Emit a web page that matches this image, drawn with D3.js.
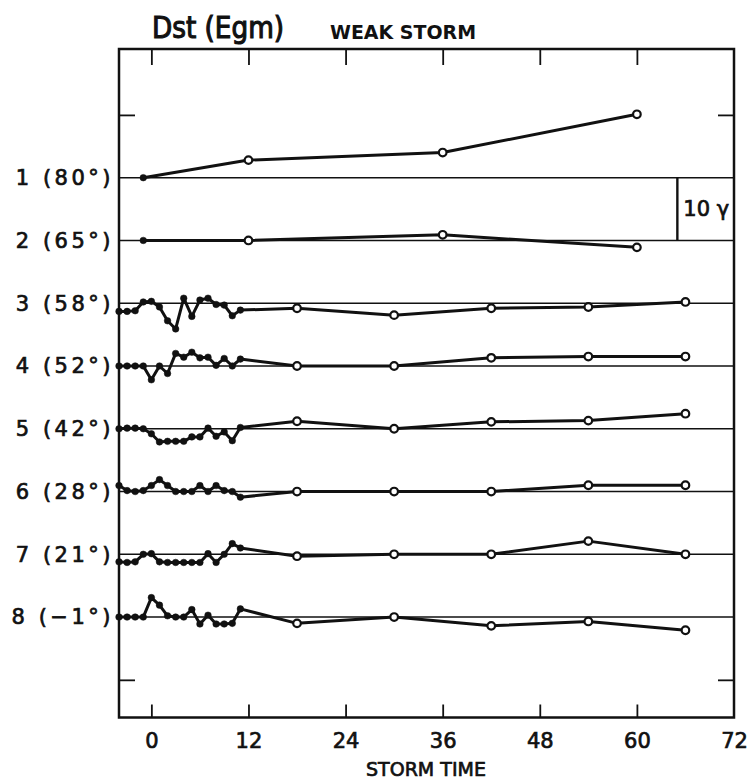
<!DOCTYPE html>
<html lang="en">
<head>
<meta charset="UTF-8">
<title>Dst (Egm) weak storm</title>
<script src="https://cdn.jsdelivr.net/npm/d3@7"></script>
<style>
  body { margin: 0; background: #fff; }
  svg { display: block; font-family: "DejaVu Sans", sans-serif; }
  .lettering { fill: #111; stroke: #111; stroke-width: 0.7px; }
</style>
</head>
<body>
<div id="chart"></div>
<script>
// station labels, top to bottom
const stations = ["1 (80°)", "2 (65°)", "3 (58°)", "4 (52°)", "5 (42°)", "6 (28°)", "7  (21°)", "8  (\u22121°)"];

// hourly storm times (rows 3-8) and the later 12-hourly samples
const hours = [-4, -3, -2, -1, 0, 1, 2, 3, 4, 5, 6, 7, 8, 9, 10, 11];
const lateTimes = [18, 30, 42, 54, 66];
// rows 1-2 only have these
const polarTimes = [-1, 12, 36, 60];

// values in gamma, relative to each row's baseline
const row1 = [0, 2.8, 4.0, 10.1];
const row2 = [0, 0, 0.9, -1.1];

const row3Hourly = [-1.3, -1.3, -1.2, 0.2, 0.3, -0.6, -2.8, -4.1, 0.8, -2.1, 0.5, 0.8, -0.2, -0.3, -2.0, -1.1];
const row4Hourly = [0, 0, 0, 0, -2.2, 0, -1.2, 2.0, 1.4, 2.2, 1.3, 1.4, 0.1, 1.2, 0, 1.1];
const row5Hourly = [0, 0.1, 0.1, 0, -0.8, -2.1, -2.0, -2.0, -2.0, -1.3, -1.3, 0.1, -1.2, -0.5, -1.9, 0.2];
const row6Hourly = [0.95, 0.15, 0, 0.15, 0.95, 1.9, 0.95, 0, 0, 0, 0.95, 0, 0.95, 0.15, 0, -0.9];
const row7Hourly = [-1.2, -1.3, -1.2, 0, 0.1, -1.2, -1.3, -1.3, -1.3, -1.3, -1.3, 0.1, -1.3, 0, 1.7, 1.0];
const row8Hourly = [0, 0, 0, 0, 3.1, 1.9, 0.2, 0, 0, 1.2, -1.1, 0.3, -1.1, -1.1, -1.0, 1.3];

const row3Late = [-0.8, -1.9, -0.8, -0.6, 0.2];
const row4Late = [0, 0, 1.3, 1.5, 1.5];
const row5Late = [1.2, 0, 1.1, 1.3, 2.4];
const row6Late = [0, 0, 0, 1.0, 1.0];
const row7Late = [-0.3, 0, 0, 2.1, 0];
const row8Late = [-1.0, 0, -1.4, -0.7, -2.1];

const xTicks = [0, 12, 24, 36, 48, 60, 72];
const rowSpacing = 10; // gamma between baselines (scale bar = 10 gamma)

const width = 749, height = 784;

const svg = d3.select("#chart").append("svg")
  .attr("width", width)
  .attr("height", height);

const x = d3.scaleLinear().domain([-4, 72]).range([119, 734]);
// vertical scale in gamma: row k sits at k*10
const y = d3.scaleLinear().domain([-10.5, 96]).range([49, 717.5]);

// build the point lists for every row
const series = [
  polarTimes.map((t, i) => ({t, v: row1[i], open: i > 0})),
  polarTimes.map((t, i) => ({t, v: row2[i], open: i > 0}))
];
[[row3Hourly, row3Late], [row4Hourly, row4Late], [row5Hourly, row5Late],
 [row6Hourly, row6Late], [row7Hourly, row7Late], [row8Hourly, row8Late]].forEach(([h, l]) => {
  series.push(
    hours.map((t, i) => ({t, v: h[i], open: false}))
      .concat(lateTimes.map((t, i) => ({t, v: l[i], open: true})))
  );
});

const [x0, x1] = x.range();
const [yTop, yBottom] = y.range();

// baselines
svg.append("g")
  .selectAll("line")
  .data(stations)
  .join("line")
  .attr("x1", x0).attr("x2", x1)
  .attr("y1", (d, i) => y((i + 1) * rowSpacing))
  .attr("y2", (d, i) => y((i + 1) * rowSpacing))
  .attr("stroke", "#111")
  .attr("stroke-width", 1.6);

// frame
svg.append("rect")
  .attr("x", x0).attr("y", yTop)
  .attr("width", x1 - x0).attr("height", yBottom - yTop)
  .attr("fill", "none")
  .attr("stroke", "#111")
  .attr("stroke-width", 2.5);

// axes: inward ticks on all sides
const bottomAxis = svg.append("g")
  .attr("transform", `translate(0,${yBottom})`)
  .call(d3.axisBottom(x).tickValues(xTicks).tickSize(-13).tickPadding(16));
bottomAxis.select(".domain").remove();
bottomAxis.selectAll("line").attr("stroke", "#111").attr("stroke-width", 1.8);
bottomAxis.selectAll("text")
  .attr("class", "lettering")
  .style("font-size", "21px")
  .style("font-family", "'DejaVu Sans', sans-serif");
bottomAxis.selectAll(".tick").filter(d => d === 72).select("line").remove();

const topAxis = svg.append("g")
  .attr("transform", `translate(0,${yTop})`)
  .call(d3.axisTop(x).tickValues(xTicks.slice(0, -1)).tickSize(-16).tickFormat(""));
topAxis.select(".domain").remove();
topAxis.selectAll("line").attr("stroke", "#111").attr("stroke-width", 1.8);

const leftAxis = svg.append("g")
  .attr("transform", `translate(${x0},0)`)
  .call(d3.axisLeft(y).tickValues([0, 90]).tickSize(-16).tickFormat(""));
leftAxis.select(".domain").remove();
leftAxis.selectAll("line").attr("stroke", "#111").attr("stroke-width", 1.8);

const rightAxis = svg.append("g")
  .attr("transform", `translate(${x1},0)`)
  .call(d3.axisRight(y).tickValues([0, 90]).tickSize(-16).tickFormat(""));
rightAxis.select(".domain").remove();
rightAxis.selectAll("line").attr("stroke", "#111").attr("stroke-width", 1.8);

// station labels
svg.append("g")
  .selectAll("text")
  .data(stations)
  .join("text")
  .attr("class", "lettering")
  .attr("x", 114)
  .attr("y", (d, i) => y((i + 1) * rowSpacing))
  .attr("dy", "0.35em")
  .attr("text-anchor", "end")
  .style("font-size", "21px")
  .style("letter-spacing", "3.5px")
  .text(d => d);

// data lines
const line = d3.line()
  .x(d => x(d.t))
  .y(d => d.yy);

series.forEach((pts, i) => {
  const base = (i + 1) * rowSpacing;
  pts.forEach(p => p.yy = y(base - p.v));
  const g = svg.append("g");
  g.append("path")
    .datum(pts)
    .attr("d", line)
    .attr("fill", "none")
    .attr("stroke", "#111")
    .attr("stroke-width", 3)
    .attr("stroke-linejoin", "round");
  g.selectAll("circle")
    .data(pts)
    .join("circle")
    .attr("cx", d => x(d.t))
    .attr("cy", d => d.yy)
    .attr("r", d => d.open ? 3.8 : 3.3)
    .attr("fill", d => d.open ? "#fff" : "#111")
    .attr("stroke", "#111")
    .attr("stroke-width", d => d.open ? 2.2 : 0.5);
});

// 10 gamma scale bar between rows 1 and 2
svg.append("line")
  .attr("x1", x(65)).attr("x2", x(65))
  .attr("y1", y(rowSpacing)).attr("y2", y(2 * rowSpacing))
  .attr("stroke", "#111")
  .attr("stroke-width", 2.4);
svg.append("text")
  .attr("class", "lettering")
  .attr("x", x(65) + 6)
  .attr("y", y(1.5 * rowSpacing))
  .attr("dy", "0.35em")
  .style("font-size", "21px")
  .text("10 γ");

// titles
svg.append("text")
  .attr("class", "lettering")
  .attr("x", 152).attr("y", 38)
  .style("font-family", "'DejaVu Sans Condensed', 'DejaVu Sans', sans-serif")
  .style("font-size", "31px")
  .style("stroke-width", "1.1px")
  .attr("textLength", 132)
  .attr("lengthAdjust", "spacingAndGlyphs")
  .text("Dst (Egm)");
svg.append("text")
  .attr("x", 330).attr("y", 39)
  .style("font-size", "20px")
  .style("font-weight", "bold")
  .attr("textLength", 146)
  .attr("lengthAdjust", "spacingAndGlyphs")
  .attr("fill", "#111")
  .text("WEAK STORM");

svg.append("text")
  .attr("class", "lettering")
  .attr("x", 426).attr("y", 776)
  .attr("text-anchor", "middle")
  .style("font-size", "19px")
  .attr("textLength", 120)
  .attr("lengthAdjust", "spacing")
  .text("STORM TIME");
</script>
</body>
</html>
